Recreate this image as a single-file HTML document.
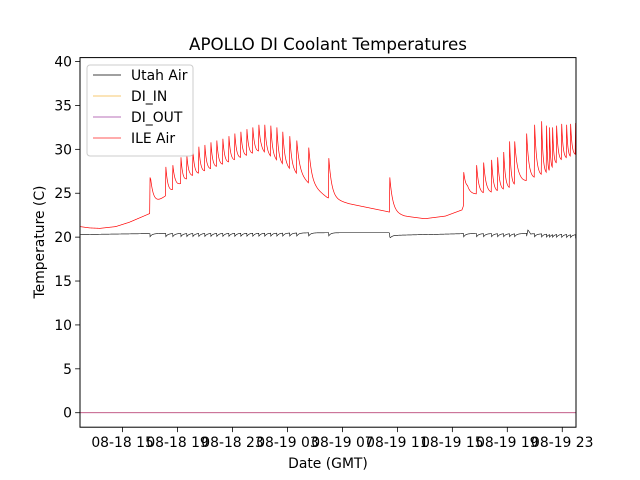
<!DOCTYPE html>
<html><head><meta charset="utf-8"><style>
html,body{margin:0;padding:0;background:#fff;}
svg{display:block;font-family:"DejaVu Sans","Liberation Sans",sans-serif;}
</style></head><body>
<svg id="chart" width="640" height="480" viewBox="0 0 640 480">
<rect x="0" y="0" width="640" height="480" fill="#fff"/>
<text x="328" y="50" font-size="16.7" text-anchor="middle">APOLLO DI Coolant Temperatures</text>
<g id="plot"></g>
<rect x="80" y="57.6" width="496" height="369.6" fill="none" stroke="#000" stroke-width="1"/>
<text x="328" y="468" font-size="13.9" text-anchor="middle">Date (GMT)</text>
<text transform="translate(44,242) rotate(-90)" font-size="13.9" text-anchor="middle">Temperature (C)</text>
<g id="legend">
<rect x="87" y="65" width="106" height="91" rx="3" fill="#fff" fill-opacity="0.8" stroke="#ccc"/>
</g>
</svg>
<script>
// data (time in hours from 08-18 00:00)
const xTickHours = [15,19,23,27,31,35,39,43,47];
const xTickLabels = ["08-18 15","08-18 19","08-18 23","08-19 03","08-19 07","08-19 11","08-19 15","08-19 19","08-19 23"];
const yTicks = [0,5,10,15,20,25,30,35,40];
const spikeTimes = [17.0,18.15,18.66,19.25,19.68,20.12,20.55,20.99,21.43,21.86,22.3,22.74,23.17,23.61,24.05,24.48,24.92,25.35,25.79,26.23,26.66,27.17,27.68,28.55,30.01,34.45,39.83,40.77,41.28,41.86,42.3,42.74,43.17,43.54,44.41,44.99,45.5,45.86,46.08,46.3,46.59,46.96,47.32,47.61,47.97];
const spikePeaks = [26.8,28,28.2,29.1,29.3,29.8,30.3,30.5,30.8,31,31.2,31.5,31.8,32,32.3,32.5,32.8,32.8,32.7,32.5,32,31.5,31,30.2,29,26.8,27.4,28.2,28.5,28.8,29.1,29.7,30.9,30.9,31.8,32.8,33.2,32.7,32.5,32.5,32.7,32.9,32.8,32.9,33];
const ileBaseTimes = [11.9,12.6,13.35,14.5,15.5,16.99,17.05,19.9,23.5,25.1,27.5,29.9,31.5,34.3,35.5,37,38.5,39.7,40.1,41.9,43.2,43.9,44.6,46.0,46.7,48];
const ileBaseVals  = [21.2,21.05,21.0,21.2,21.7,22.7,23.4,26.8,28.9,29.8,27.3,24.5,23.8,22.9,22.4,22.1,22.4,23.1,24.8,25.0,25.5,26.2,26.4,27.2,28.5,29.3];
const utahTimes = [11.9,17,30,34.4,34.5,40,44.4,44.5,44.7,48];
const utahVals  = [20.3,20.4,20.5,20.5,20.2,20.4,20.4,21.0,20.4,20.3];
const diInVals = [0,0];
const diOutVals = [0,0];
const tMin = 11.9, tMax = 48.0, vMin = -1.65, vMax = 40.45;

const X0=80, X1=576, Y0=57.6, Y1=427.2;
const xs = t => X0 + (t - tMin) / (tMax - tMin) * (X1 - X0);
const ys = v => Y1 - (v - vMin) / (vMax - vMin) * (Y1 - Y0);
const NS = "http://www.w3.org/2000/svg";
const svg = document.getElementById('chart');
const plot = document.getElementById('plot');
function mk(tag, attrs, parent){ const e=document.createElementNS(NS,tag); for(const k in attrs) e.setAttribute(k,attrs[k]); (parent||svg).appendChild(e); return e; }
function interp(ts, vs, t){ if(t<=ts[0]) return vs[0]; for(let i=1;i<ts.length;i++){ if(t<=ts[i]){ const f=(t-ts[i-1])/(ts[i]-ts[i-1]); return vs[i-1]+f*(vs[i]-vs[i-1]); } } return vs[vs.length-1]; }

xTickHours.forEach((h,i)=>{
  const x=xs(h);
  const tk=mk('line',{x1:x,x2:x,y1:Y1,y2:Y1+4.9,stroke:'#000','stroke-width':0.8});
  
  
  const tl=mk('text',{x:x,y:Y1+20,'font-size':13.9,'text-anchor':'middle'});
  tl.textContent=xTickLabels[i];
  
  
});
yTicks.forEach(v=>{
  const y=ys(v);
  const tk=mk('line',{x1:X0-4.9,x2:X0,y1:y,y2:y,stroke:'#000','stroke-width':0.8});
  
  
  const tl=mk('text',{x:X0-8,y:y+5,'font-size':13.9,'text-anchor':'end'});
  tl.textContent=String(v);
  
  
});

const rise=0.03;
function ileAt(t){
  let b=interp(ileBaseTimes,ileBaseVals,t);
  let k=-1; for(let i=0;i<spikeTimes.length;i++){ if(spikeTimes[i]-rise<=t) k=i; }
  if(k<0) return b;
  const st=spikeTimes[k];
  const b0=interp(ileBaseTimes,ileBaseVals,st);
  const amp=spikePeaks[k]-b0;
  if(t<st){
    const prev=k>0?(function(){const s=spikeTimes[k-1];const g=st-s;const tau=Math.min(0.22,g*0.3);return interp(ileBaseTimes,ileBaseVals,st-rise)+(spikePeaks[k-1]-interp(ileBaseTimes,ileBaseVals,s))*Math.exp(-(st-rise-s)/tau);})():interp(ileBaseTimes,ileBaseVals,st-rise);
    const f=(t-(st-rise))/rise;
    return prev+f*(spikePeaks[k]-prev);
  }
  const gap=(k+1<spikeTimes.length?spikeTimes[k+1]:st+1)-st;
  const tau=Math.min(0.22,gap*0.3);
  return b+amp*Math.exp(-(t-st)/tau);
}
function utahAt(t){
  let b=interp(utahTimes,utahVals,t);
  let k=-1; for(let i=0;i<spikeTimes.length;i++){ if(spikeTimes[i]<=t) k=i; }
  if(k<0) return b;
  return b-0.35*Math.exp(-(t-spikeTimes[k])/0.15);
}
function sample(fn){
  const ts=[];
  for(let t=tMin;t<=tMax;t+=0.01) ts.push(t);
  spikeTimes.forEach(s=>{ts.push(s-rise);ts.push(s);});
  ts.sort((a,b)=>a-b);
  return ts.filter(t=>t>=tMin&&t<=tMax).map(t=>xs(t).toFixed(2)+','+ys(fn(t)).toFixed(2)).join(' ');
}
const utah=mk('polyline',{points:sample(utahAt),fill:'none',stroke:'#000','stroke-width':0.6},plot);


const diIn=mk('polyline',{points:xs(tMin)+','+ys(diInVals[0])+' '+xs(tMax)+','+ys(diInVals[1]),fill:'none',stroke:'#f5b942','stroke-width':0.6},plot);


const diOut=mk('polyline',{points:xs(tMin)+','+ys(diOutVals[0])+' '+xs(tMax)+','+ys(diOutVals[1]),fill:'none',stroke:'#b0307a','stroke-width':0.8},plot);


const ile=mk('polyline',{points:sample(ileAt),fill:'none',stroke:'#ff0000','stroke-width':0.7},plot);



const lg=document.getElementById('legend');
const names=['Utah Air','DI_IN','DI_OUT','ILE Air'];
const cols=['#000','#f5b942','#a040a0','#ff2020'];
names.forEach((n,i)=>{
  const y=75+i*21;
  const ln=mk('line',{x1:93,x2:121,y1:y,y2:y,stroke:cols[i],'stroke-width':0.8},lg);
  
  
  const tx=mk('text',{x:131,y:y+5,'font-size':13.9},lg);
  tx.textContent=n;
  
  
});
</script>
</body></html>
